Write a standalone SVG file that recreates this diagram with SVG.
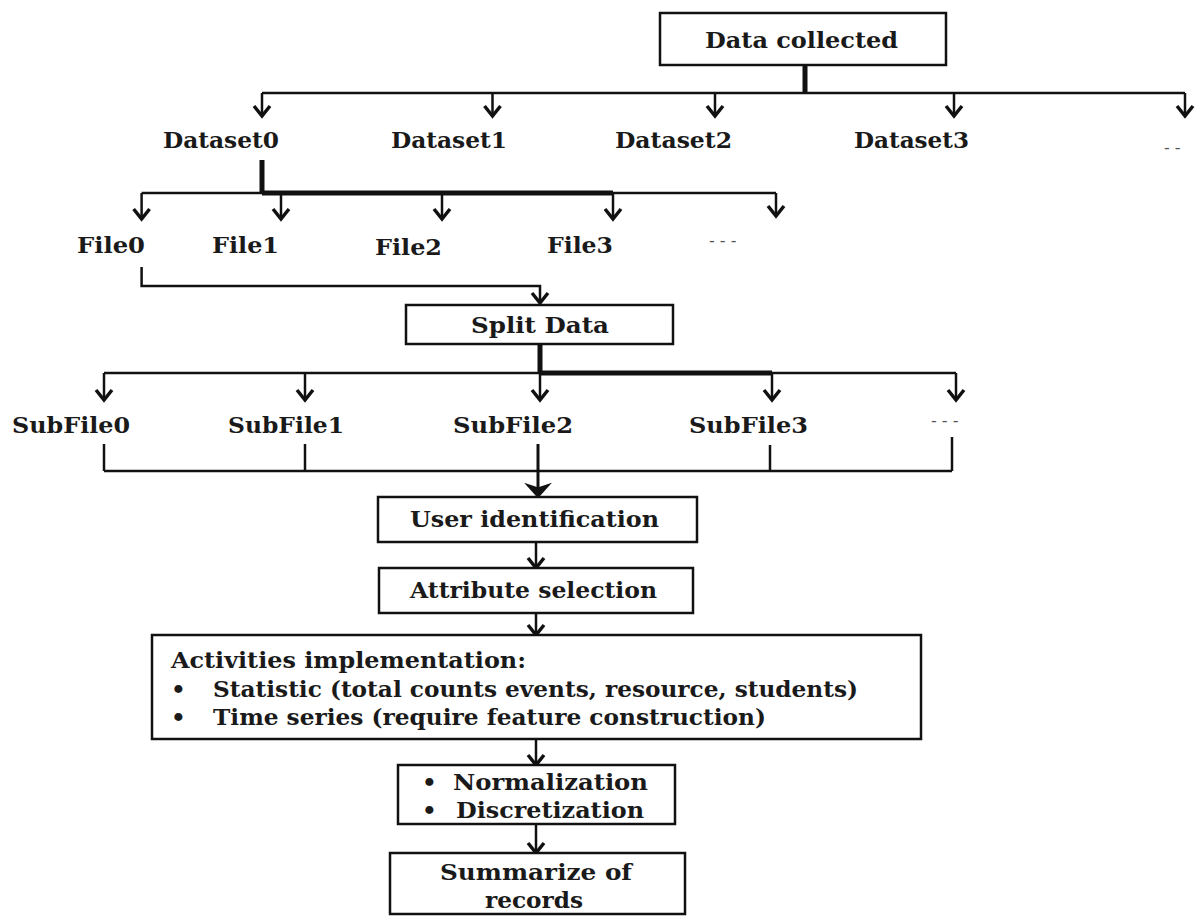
<svg xmlns="http://www.w3.org/2000/svg" width="1198" height="916" viewBox="0 0 1198 916">
<style>
.bg{fill:#ffffff}
.box{fill:#ffffff;stroke:#111;stroke-width:2.5}
.t{font-family:"DejaVu Serif","Liberation Serif",serif;font-weight:bold;fill:#1a1a1a;font-size:23px}
.ln{fill:none;stroke:#111;stroke-width:2.5}
.thk{fill:none;stroke:#111;stroke-width:5}
.ah{fill:none;stroke:#111;stroke-width:3.5;stroke-linejoin:miter}
.ahb{fill:#111;stroke:#111;stroke-width:3}
.dash{font-family:"DejaVu Sans",sans-serif;fill:#555;font-size:16px}
</style>
<rect class="bg" x="0" y="0" width="1198" height="916"/>
<g id="connectors">
  <line class="thk" x1="805" y1="65" x2="805" y2="94"/>
  <line class="ln" x1="262" y1="93" x2="1185" y2="93"/>
  <line class="ln" x1="262" y1="93" x2="262" y2="115"/><polyline class="ah" points="254,106 262,116 270,106"/>
  <line class="ln" x1="492.5" y1="93" x2="492.5" y2="115"/><polyline class="ah" points="484.5,106 492.5,116 500.5,106"/>
  <line class="ln" x1="715" y1="93" x2="715" y2="115"/><polyline class="ah" points="707,106 715,116 723,106"/>
  <line class="ln" x1="954" y1="93" x2="954" y2="115"/><polyline class="ah" points="946,106 954,116 962,106"/>
  <line class="ln" x1="1185" y1="93" x2="1185" y2="115"/><polyline class="ah" points="1177,106 1185,116 1193,106"/>
  <line class="thk" x1="262" y1="160" x2="262" y2="194"/>
  <line class="ln" x1="141.6" y1="193" x2="776" y2="193"/>
  <line class="thk" x1="262" y1="193" x2="613" y2="193"/>
  <line class="ln" x1="141.6" y1="193" x2="141.6" y2="218"/><polyline class="ah" points="133.6,209 141.6,219 149.6,209"/>
  <line class="ln" x1="281" y1="193" x2="281" y2="218"/><polyline class="ah" points="273,209 281,219 289,209"/>
  <line class="ln" x1="442" y1="193" x2="442" y2="218"/><polyline class="ah" points="434,209 442,219 450,209"/>
  <line class="ln" x1="613" y1="193" x2="613" y2="218"/><polyline class="ah" points="605,209 613,219 621,209"/>
  <line class="ln" x1="776" y1="193" x2="776" y2="216"/><polyline class="ah" points="768,206 776,216 784,206"/>
  <path class="ln" d="M141.6 267 V286 H540 V302"/><polyline class="ah" points="532,293 540,303 548,293"/>
  <line class="thk" x1="540" y1="344" x2="540" y2="374"/>
  <line class="ln" x1="104" y1="373" x2="956" y2="373"/>
  <line class="thk" x1="540" y1="373" x2="772" y2="373"/>
  <line class="ln" x1="104" y1="373" x2="104" y2="399"/><polyline class="ah" points="96,390 104,400 112,390"/>
  <line class="ln" x1="305" y1="373" x2="305" y2="399"/><polyline class="ah" points="297,390 305,400 313,390"/>
  <line class="ln" x1="540" y1="373" x2="540" y2="399"/><polyline class="ah" points="532,390 540,400 548,390"/>
  <line class="ln" x1="772" y1="373" x2="772" y2="399"/><polyline class="ah" points="764,390 772,400 780,390"/>
  <line class="ln" x1="956" y1="373" x2="956" y2="399"/><polyline class="ah" points="948,390 956,400 964,390"/>
  <line class="ln" x1="104" y1="444" x2="104" y2="471"/>
  <line class="ln" x1="305" y1="444" x2="305" y2="471"/>
  <line class="ln" x1="770" y1="445" x2="770" y2="471"/>
  <line class="ln" x1="952" y1="437" x2="952" y2="471"/>
  <line class="ln" x1="104" y1="471" x2="952" y2="471"/>
  <line class="ln" x1="538" y1="444" x2="538" y2="488" style="stroke-width:3"/>
  <polygon class="ahb" points="529,486 538,496 547,486 538,489"/>
  <line class="ln" x1="536" y1="542" x2="536" y2="567"/><polyline class="ah" points="528,558 536,568 544,558"/>
  <line class="ln" x1="536" y1="613" x2="536" y2="634"/><polyline class="ah" points="528,625 536,635 544,625"/>
  <line class="ln" x1="536" y1="739" x2="536" y2="764"/><polyline class="ah" points="528,755 536,765 544,755"/>
  <line class="ln" x1="536" y1="824" x2="536" y2="852"/><polyline class="ah" points="528,843 536,853 544,843"/>
</g>
<g id="data-collected">
  <rect class="box" x="660" y="13" width="286" height="52"/>
  <text class="t" x="705" y="48" textLength="193" lengthAdjust="spacingAndGlyphs">Data collected</text>
</g>
<g id="dataset0"><text class="t" x="163" y="148" textLength="116" lengthAdjust="spacingAndGlyphs">Dataset0</text></g>
<g id="dataset1"><text class="t" x="391" y="148" textLength="116" lengthAdjust="spacingAndGlyphs">Dataset1</text></g>
<g id="dataset2"><text class="t" x="615" y="148" textLength="117" lengthAdjust="spacingAndGlyphs">Dataset2</text></g>
<g id="dataset3"><text class="t" x="854" y="148" textLength="115" lengthAdjust="spacingAndGlyphs">Dataset3</text></g>
<g id="dataset-more"><text class="dash" x="1164" y="153">- -</text></g>
<g id="file0"><text class="t" x="77" y="253" textLength="68" lengthAdjust="spacingAndGlyphs">File0</text></g>
<g id="file1"><text class="t" x="212" y="253" textLength="67" lengthAdjust="spacingAndGlyphs">File1</text></g>
<g id="file2"><text class="t" x="375" y="255" textLength="67" lengthAdjust="spacingAndGlyphs">File2</text></g>
<g id="file3"><text class="t" x="547" y="253" textLength="66" lengthAdjust="spacingAndGlyphs">File3</text></g>
<g id="file-more"><text class="dash" x="709" y="246">- - -</text></g>
<g id="split-data">
  <rect class="box" x="406" y="305" width="267" height="39"/>
  <text class="t" x="471" y="333" textLength="138" lengthAdjust="spacingAndGlyphs">Split Data</text>
</g>
<g id="subfile0"><text class="t" x="12" y="433" textLength="118" lengthAdjust="spacingAndGlyphs">SubFile0</text></g>
<g id="subfile1"><text class="t" x="228" y="433" textLength="116" lengthAdjust="spacingAndGlyphs">SubFile1</text></g>
<g id="subfile2"><text class="t" x="453" y="433" textLength="120" lengthAdjust="spacingAndGlyphs">SubFile2</text></g>
<g id="subfile3"><text class="t" x="689" y="433" textLength="119" lengthAdjust="spacingAndGlyphs">SubFile3</text></g>
<g id="subfile-more"><text class="dash" x="931" y="426">- - -</text></g>
<g id="user-identification">
  <rect class="box" x="378" y="497" width="319" height="45"/>
  <text class="t" x="410" y="527" textLength="249" lengthAdjust="spacingAndGlyphs">User identification</text>
</g>
<g id="attribute-selection">
  <rect class="box" x="379" y="568" width="314" height="45"/>
  <text class="t" x="410" y="598" textLength="247" lengthAdjust="spacingAndGlyphs">Attribute selection</text>
</g>
<g id="activities">
  <rect class="box" x="152" y="635" width="769" height="104"/>
  <text class="t" x="171" y="668" textLength="355" lengthAdjust="spacingAndGlyphs">Activities implementation:</text>
  <text class="t" x="171" y="697">•</text>
  <text class="t" x="213" y="697" textLength="645" lengthAdjust="spacingAndGlyphs">Statistic (total counts events, resource, students)</text>
  <text class="t" x="171" y="725">•</text>
  <text class="t" x="213" y="725" textLength="553" lengthAdjust="spacingAndGlyphs">Time series (require feature construction)</text>
</g>
<g id="normalization">
  <rect class="box" x="398" y="765" width="277" height="59"/>
  <text class="t" x="422" y="790">•</text>
  <text class="t" x="453" y="790" textLength="195" lengthAdjust="spacingAndGlyphs">Normalization</text>
  <text class="t" x="422" y="818">•</text>
  <text class="t" x="456" y="818" textLength="188" lengthAdjust="spacingAndGlyphs">Discretization</text>
</g>
<g id="summarize">
  <rect class="box" x="390" y="853" width="295" height="61"/>
  <text class="t" x="440" y="880" textLength="192" lengthAdjust="spacingAndGlyphs">Summarize of</text>
  <text class="t" x="485" y="908" textLength="98" lengthAdjust="spacingAndGlyphs">records</text>
</g>
</svg>
